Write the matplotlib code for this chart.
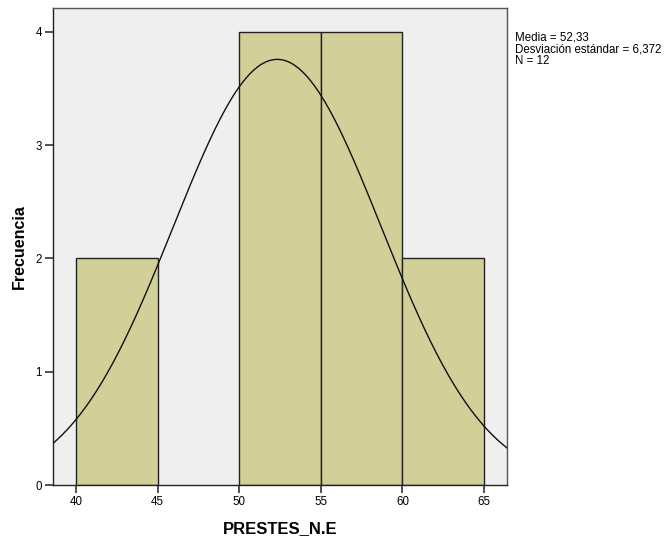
import numpy as np
import matplotlib
matplotlib.use("Agg")
import matplotlib.pyplot as plt

bin_edges = [40, 45, 50, 55, 60, 65]
counts = [2, 0, 4, 4, 2]
mean = 52.33
sd = 6.372
n = 12
xticks = [40, 45, 50, 55, 60, 65]
yticks = [0, 1, 2, 3, 4]

plt.rcParams['font.family'] = ['Liberation Sans', 'DejaVu Sans']

fig = plt.figure(figsize=(6.66, 5.37), dpi=100)
ax = fig.add_axes([53/666, 52/537, 454/666, 477/537])
ax.set_facecolor('#efefef')

lefts = bin_edges[:-1]
widths = np.diff(bin_edges)
for l, w, c in zip(lefts, widths, counts):
    if c > 0:
        ax.bar(l, c, width=w, align='edge', color='#d3cf98', edgecolor='#222222', linewidth=1.0, zorder=2)

xlim = (38.59, 66.41)
xs = np.linspace(xlim[0], xlim[1], 400)
bw = bin_edges[1] - bin_edges[0]
ys = n * bw / (sd * np.sqrt(2 * np.pi)) * np.exp(-0.5 * ((xs - mean) / sd) ** 2)
ax.plot(xs, ys, color='#111111', linewidth=1.0, zorder=3)

ax.set_xlim(*xlim)
ax.set_ylim(0, 4.21)
ax.set_xticks(xticks)
ax.set_yticks(yticks)
ax.tick_params(axis='both', labelsize=8.3, length=6, width=1.2, color='#333333', pad=2)
for s in ax.spines.values():
    s.set_color('#555555')
    s.set_linewidth(1.0)
ax.spines['left'].set_color('#222222')
ax.spines['bottom'].set_color('#222222')

ax.set_xlabel('PRESTES_N.E', fontsize=12, fontweight='bold', labelpad=9)
ax.set_ylabel('Frecuencia', fontsize=11.5, fontweight='bold')
ax.yaxis.set_label_coords(-0.057, 0.5)

fig.text(515/666, 1 - 31/537, 'Media = 52,33\nDesviación estándar = 6,372\nN = 12',
         fontsize=8.3, va='top', ha='left', linespacing=1.0)

fig.savefig('out.png', dpi=100)
